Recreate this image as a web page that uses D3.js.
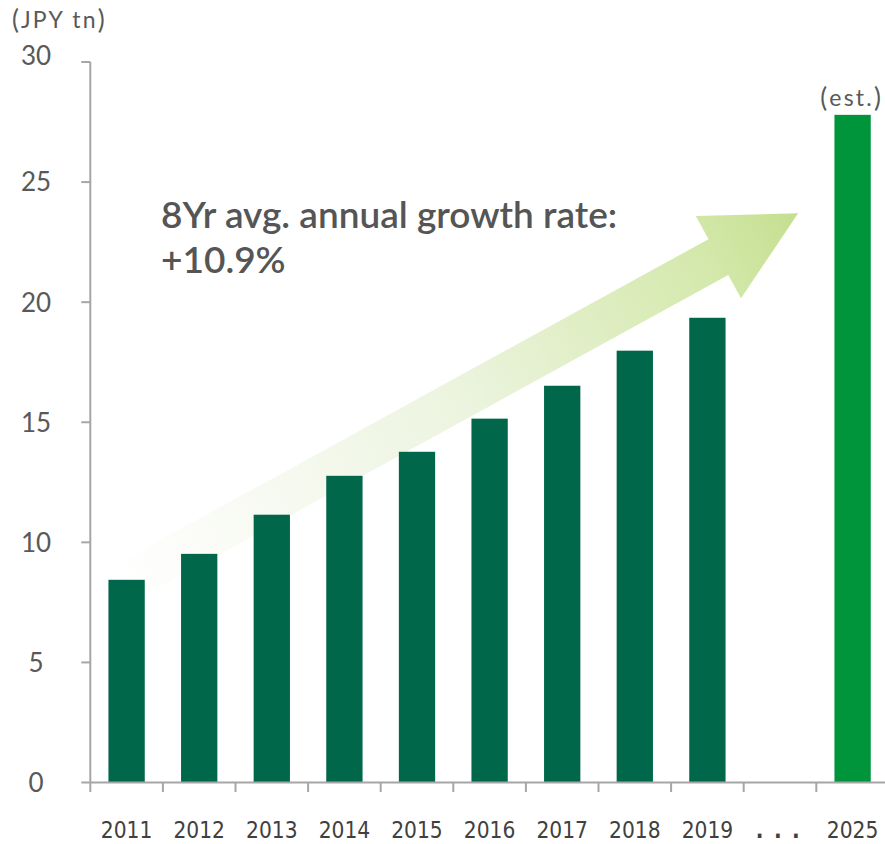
<!DOCTYPE html>
<html>
<head>
<meta charset="utf-8">
<script src="https://cdn.jsdelivr.net/npm/d3@7"></script>
<style>
  html, body { margin: 0; padding: 0; background: #ffffff; }
  svg { display: block; overflow: hidden; }
</style>
</head>
<body>
<div id="chart"></div>
<script>
// ---- data ----
const categories = ["2011", "2012", "2013", "2014", "2015", "2016", "2017", "2018", "2019", "...", "2025"];
const values = [8.44, 9.52, 11.15, 12.77, 13.77, 15.15, 16.52, 17.98, 19.35, null, 27.8];
const estimated = ["2025"];
const yTicks = [0, 5, 10, 15, 20, 25, 30];
const unitLabel = "JPY tn";
const estLabel = "est.";
const annotationLines = ["8Yr avg. annual growth rate:", "+10.9%"];
// arrow annotation: from (band index, value) to (band index, value)
const arrowFrom = [-0.09, 8.2];
const arrowTo = [9.25, 23.7];

// ---- layout ----
const W = 885, H = 844;
const plotLeft = 90.3, plotRight = 888.9, plotTop = 62, plotBottom = 782.5;

const svg = d3.select("#chart").append("svg")
  .attr("width", W).attr("height", H);

const x = d3.scaleBand().domain(categories).range([plotLeft, plotRight]).paddingInner(0.5).paddingOuter(0.25);
const xIdx = d3.scaleLinear().domain([-0.5, categories.length - 0.5]).range([plotLeft, plotRight]);
const y = d3.scaleLinear().domain([0, 30]).range([plotBottom, plotTop]);

// ---- arrow (behind bars) ----
const defs = svg.append("defs");
const p0 = [xIdx(arrowFrom[0]), y(arrowFrom[1])];
const p1 = [xIdx(arrowTo[0]), y(arrowTo[1])];
const grad = defs.append("linearGradient").attr("id", "arrowGrad")
  .attr("gradientUnits", "userSpaceOnUse")
  .attr("x1", p0[0]).attr("y1", p0[1]).attr("x2", p1[0]).attr("y2", p1[1]);
[[0, "#ffffff"], [0.12, "#fbfcf8"], [0.5, "#ecf4df"], [0.85, "#d5e9ae"], [1, "#c4df8f"]]
  .forEach(([o, c]) => grad.append("stop").attr("offset", o).attr("stop-color", c));

(function drawArrow() {
  const dx = p1[0] - p0[0], dy = p1[1] - p0[1];
  const L = Math.hypot(dx, dy);
  const ux = dx / L, uy = dy / L;
  const nx = -uy, ny = ux;
  const shaftHalf = 20.5, headHalf = 47, headLen = 91;
  const b = [p1[0] - ux * headLen, p1[1] - uy * headLen];
  const pt = (base, d) => [base[0] + nx * d, base[1] + ny * d];
  const pts = [
    pt(p0, -shaftHalf), pt(b, -shaftHalf), pt(b, -headHalf), p1,
    pt(b, headHalf), pt(b, shaftHalf), pt(p0, shaftHalf)
  ];
  svg.append("path")
    .attr("d", "M" + pts.map(p => p.join(",")).join("L") + "Z")
    .attr("fill", "url(#arrowGrad)");
})();

// ---- bars ----
const data = categories.map((c, i) => ({ cat: c, value: values[i] })).filter(d => d.value != null);
svg.append("g").selectAll("rect").data(data).join("rect")
  .attr("x", d => x(d.cat))
  .attr("width", x.bandwidth())
  .attr("y", d => y(d.value))
  .attr("height", d => y(0) - y(d.value))
  .attr("fill", d => estimated.includes(d.cat) ? "#00953b" : "#00674a");

// ---- axes ----
const axisColor = "#a6a6a6";
const yAxis = svg.append("g");
yAxis.append("line")
  .attr("x1", plotLeft).attr("x2", plotLeft).attr("y1", y(30)).attr("y2", y(0))
  .attr("stroke", axisColor).attr("stroke-width", 2);
yAxis.selectAll("line.tick").data(yTicks).join("line").attr("class", "tick")
  .attr("x1", plotLeft - 9).attr("x2", plotLeft).attr("y1", d => y(d)).attr("y2", d => y(d))
  .attr("stroke", axisColor).attr("stroke-width", 2);
yAxis.selectAll("text").data(yTicks).join("text")
  .attr("x", 36).attr("y", d => y(d))
  .attr("dy", d => d === 30 ? "0.12em" : "0.36em")
  .attr("text-anchor", "middle")
  .attr("font-family", "Lato, 'Noto Sans', sans-serif")
  .attr("font-size", 26)
  .attr("fill", "#595959")
  .text(d => d);

const xAxis = svg.append("g");
xAxis.append("line")
  .attr("x1", plotLeft).attr("x2", plotRight).attr("y1", y(0)).attr("y2", y(0))
  .attr("stroke", axisColor).attr("stroke-width", 2);
const boundaries = d3.range(categories.length).map(i => xIdx(i - 0.5));
xAxis.selectAll("line.tick").data(boundaries).join("line").attr("class", "tick")
  .attr("x1", d => d).attr("x2", d => d).attr("y1", y(0)).attr("y2", y(0) + 9.5)
  .attr("stroke", axisColor).attr("stroke-width", 2);
xAxis.selectAll("text").data(categories).join("text")
  .attr("x", d => x(d) + x.bandwidth() / 2 + (d === "..." ? 3 : 0))
  .attr("y", 838)
  .attr("text-anchor", "middle")
  .attr("font-family", "'DejaVu Sans', Verdana, sans-serif")
  .attr("font-stretch", "condensed")
  .attr("font-size", 22.5)
  .attr("letter-spacing", d => d === "..." ? "10.5px" : "0px")
  .attr("font-weight", d => d === "..." ? "bold" : "normal")
  .attr("fill", "#404040")
  .text(d => d);

// ---- texts ----
function parenLabel(xPos, yPos, anchor, label, size) {
  const t = svg.append("text")
    .attr("x", xPos).attr("y", yPos)
    .attr("text-anchor", anchor)
    .attr("font-family", "Lato, 'Noto Sans', sans-serif")
    .attr("font-size", size)
    .attr("fill", "#595959");
  t.append("tspan").attr("font-size", size + 3).attr("dy", 1).text("(");
  t.append("tspan").attr("dx", 2).attr("dy", -1).attr("letter-spacing", "2.2px").text(label);
  t.append("tspan").attr("dx", 0).attr("dy", 1).attr("font-size", size + 3).text(")");
  return t;
}
parenLabel(12, 28, "start", unitLabel, 23);
parenLabel(x("2025") + x.bandwidth() / 2 - 2, 106, "middle", estLabel, 23);

const ann = svg.append("text")
  .attr("x", 161).attr("y", 228)
  .attr("font-family", "Lato, sans-serif")
  .attr("font-size", 37)
  .attr("font-weight", 600)
  .attr("fill", "#555555");
annotationLines.forEach((t, i) => ann.append("tspan").attr("x", 161).attr("dy", i === 0 ? 0 : 45).text(t));
</script>
</body>
</html>
